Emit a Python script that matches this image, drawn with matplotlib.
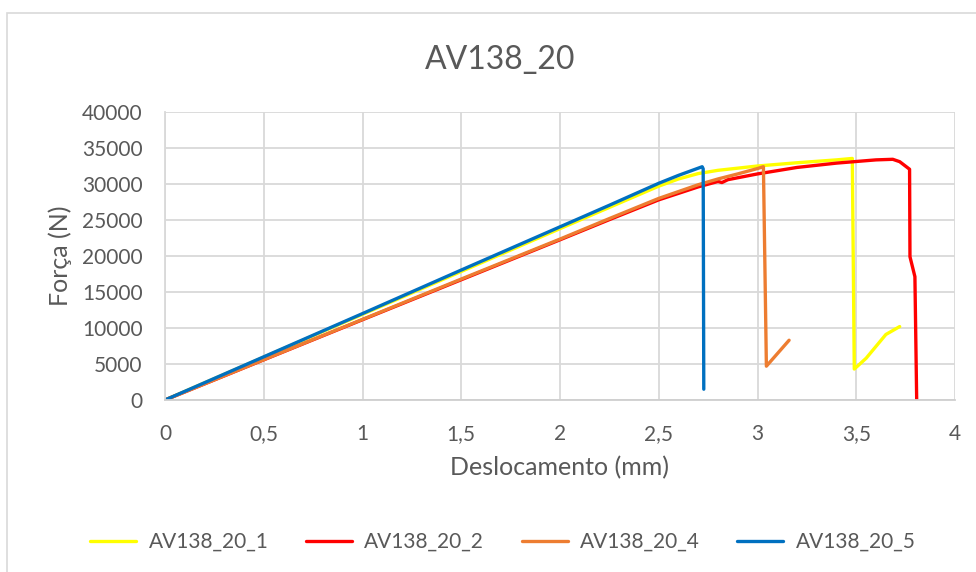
import matplotlib
matplotlib.use("Agg")
import matplotlib.pyplot as plt
from matplotlib.patches import Rectangle
from matplotlib.ticker import FuncFormatter, MultipleLocator

plt.rcParams['font.family'] = ['Lato', 'DejaVu Sans']

# Displacement (mm) / force (N) per specimen
disp_1 = [0, 0.5, 1.0, 1.5, 2.0, 2.25, 2.5, 2.6, 2.7, 2.8, 3.0, 3.2, 3.4, 3.48,
          3.49, 3.55, 3.65, 3.72]
force_1 = [0, 5950, 11900, 17850, 23800, 26750, 29700, 30700, 31450, 31900, 32500,
           32950, 33350, 33550, 4300, 5800, 9100, 10200]

disp_2 = [0, 0.5, 1.0, 1.5, 2.0, 2.25, 2.5, 2.7, 2.8, 2.82, 2.85, 3.0, 3.2, 3.4,
          3.6, 3.685, 3.72, 3.77, 3.772, 3.797, 3.806]
force_2 = [0, 5580, 11150, 16700, 22250, 25050, 27800, 29600, 30350, 30200, 30600,
           31400, 32300, 32900, 33350, 33430, 33100, 32050, 19900, 17130, 0]

disp_4 = [0, 0.5, 1.0, 1.5, 2.0, 2.25, 2.5, 2.7, 2.8, 2.9, 3.0, 3.03, 3.045, 3.16]
force_4 = [0, 5600, 11200, 16800, 22350, 25200, 28000, 29900, 30700, 31400, 32150,
           32400, 4700, 8300]

disp_5 = [0, 0.5, 1.0, 1.5, 2.0, 2.25, 2.5, 2.6, 2.7, 2.72, 2.725, 2.728]
force_5 = [0, 6000, 12000, 18050, 24050, 27050, 30100, 31200, 32200, 32400, 32100,
           1500]

series_names = ["AV138_20_1", "AV138_20_2", "AV138_20_4", "AV138_20_5"]
series_colors = ["#FFFF00", "#FF0000", "#ED7D31", "#0070C0"]

TEXT = "#595959"
GRID = "#d9d9d9"

fig = plt.figure(figsize=(9.76, 5.72), dpi=100)
fig.patch.set_facecolor("white")

# chart frame
fig.add_artist(Rectangle((7 / 976, -0.05), 1.2, (572 - 13) / 572 + 0.05,
                         transform=fig.transFigure, fill=False,
                         edgecolor=GRID, linewidth=1.2))

ax = fig.add_axes([165 / 976, (572 - 400) / 572, (955 - 165) / 976, (400 - 112) / 572])

data = [(disp_1, force_1), (disp_2, force_2), (disp_4, force_4), (disp_5, force_5)]
for (x, y), name, color in zip(data, series_names, series_colors):
    ax.plot(x, y, color=color, linewidth=2.4, label=name, solid_joinstyle="round",
            solid_capstyle="round")

ax.set_xlim(0, 4)
ax.set_ylim(0, 40000)
ax.xaxis.set_major_locator(MultipleLocator(0.5))
ax.yaxis.set_major_locator(MultipleLocator(5000))
ax.xaxis.set_major_formatter(FuncFormatter(lambda v, p: f"{v:g}".replace(".", ",")))
ax.yaxis.set_major_formatter(FuncFormatter(lambda v, p: f"{int(v)}"))

ax.grid(True, color=GRID, linewidth=1.3)
ax.set_axisbelow(True)
for side in ["top", "right"]:
    ax.spines[side].set_visible(False)
ax.spines["left"].set_color(GRID)
ax.spines["bottom"].set_color("#cfcfcf")
ax.spines["left"].set_linewidth(1.3)
ax.spines["bottom"].set_linewidth(1.3)
ax.tick_params(axis="both", length=0, labelsize=15, colors=TEXT)
ax.tick_params(axis="x", pad=17)
ax.tick_params(axis="y", pad=16)

ax.set_xlabel("Deslocamento (mm)", fontsize=18, color=TEXT, labelpad=9)
ax.set_ylabel("Força (N)", fontsize=18, color=TEXT, labelpad=7)

fig.text(500 / 976, 1 - 60 / 572, "AV138_20", fontsize=23, color=TEXT,
         ha="center", va="center")

leg = fig.legend(loc="center", bbox_to_anchor=(503 / 976, 1 - 542 / 572), ncol=4,
                 frameon=False, fontsize=15, handlelength=2.2, handletextpad=0.6,
                 columnspacing=1.8)
for t in leg.get_texts():
    t.set_color(TEXT)

fig.savefig("out.png", dpi=100, facecolor="white")
